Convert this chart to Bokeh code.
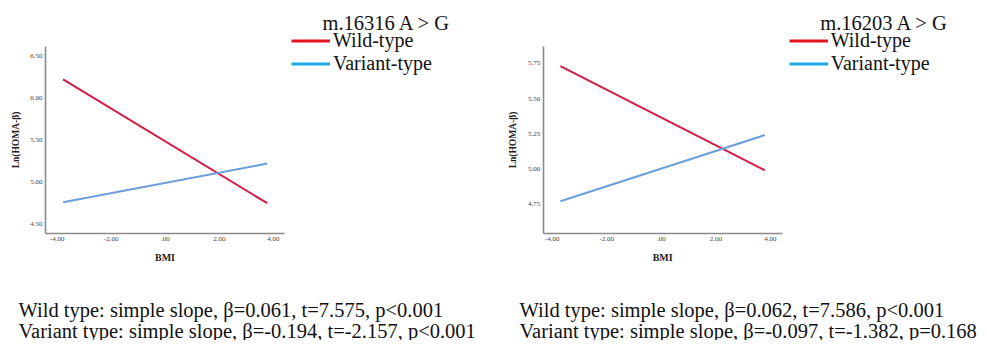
import math
from bokeh.plotting import figure
from bokeh.models import Range1d, FixedTicker, Label, Legend, LegendItem, LinearAxis
from bokeh.embed import file_html
from bokeh.resources import INLINE

# ---------------- data ----------------
series_names = ["Wild-type", "Variant-type"]
x_ticks = [-4, -2, 0, 2, 4]
x_tick_labels = ["-4.00", "-2.00", ".00", "2.00", "4.00"]

title_a = "m.16316 A > G"
bmi_a = [-3.78, 3.77]
wild_a = [6.22, 4.75]
variant_a = [4.76, 5.22]
y_ticks_a = [4.5, 5.0, 5.5, 6.0, 6.5]
y_tick_labels_a = ["4.50", "5.00", "5.50", "6.00", "6.50"]
stats_a = ["Wild type: simple slope, \u03b2=0.061, t=7.575, p<0.001",
           "Variant type: simple slope, \u03b2=-0.194, t=-2.157, p<0.001"]

title_b = "m.16203 A > G"
bmi_b = [-3.70, 3.79]
wild_b = [5.73, 4.99]
variant_b = [4.77, 5.24]
y_ticks_b = [4.75, 5.0, 5.25, 5.5, 5.75]
y_tick_labels_b = ["4.75", "5.00", "5.25", "5.50", "5.75"]
stats_b = ["Wild type: simple slope, \u03b2=0.062, t=7.586, p<0.001",
           "Variant type: simple slope, \u03b2=-0.097, t=-1.382, p=0.168"]

x_label = "BMI"
y_label = "Ln(HOMA-\u03b2)"

# ---------------- style / layout ----------------
SERIF = "Liberation Serif"
LINE_RED = "#d21f47"
LINE_BLUE = "#6b9fdb"
KEY_RED = "#e5141f"
KEY_BLUE = "#1aa9e6"
AXIS_GRAY = "#8a8a8a"
TEXT = "#111111"
BIG = "20.5px"
W, H = 982, 340

# axis extents (data) and their pixel boxes (from the figure's top-left)
xlim_a, ylim_a = (-4.43, 4.41), (4.39, 6.61)
xlim_b, ylim_b = (-4.33, 4.43), (4.54, 5.87)
box_a = dict(left=45, right=284, top=46, bottom=233)
box_b = dict(left=542.7, right=781.7, top=46, bottom=233)


def span(lim, p0, p1, total):
    s = (p1 - p0) / (lim[1] - lim[0])
    return Range1d(lim[0] - p0 / s, lim[1] + (total - p1) / s)


def xspan(lim, box):
    return span(lim, box["left"], box["right"], W)


def yspan(lim, box):
    return span(lim, H - box["bottom"], H - box["top"], H)


p = figure(width=W, height=H, output_backend="svg", toolbar_location=None,
           x_range=xspan(xlim_a, box_a), y_range=yspan(ylim_a, box_a),
           x_axis_type=None, y_axis_type=None, min_border=0)
p.min_border_left = p.min_border_right = p.min_border_top = p.min_border_bottom = 0
p.extra_x_ranges = {"b": xspan(xlim_b, box_b), "px": Range1d(0, W)}
p.extra_y_ranges = {"b": yspan(ylim_b, box_b), "px": Range1d(H, 0)}
p.outline_line_color = None
p.background_fill_color = "white"
p.border_fill_color = "white"


def style_axis(ax):
    ax.axis_line_color = AXIS_GRAY
    ax.axis_line_width = 1.6
    ax.major_tick_line_color = None
    ax.minor_tick_line_color = None
    ax.major_tick_out = 0
    ax.major_tick_in = 0
    ax.major_label_standoff = 3
    ax.major_label_text_font = SERIF
    ax.major_label_text_font_size = "7px"
    ax.major_label_text_color = "#444444"


def px_label(x, y, text, **kw):
    opts = dict(text_font=SERIF, text_font_size=BIG, text_color=TEXT,
                text_baseline="alphabetic", x_range_name="px", y_range_name="px")
    opts.update(kw)
    p.add_layout(Label(x=x, y=y, text=text, **opts))


def panel(rn, xlim, ylim, box, y_ticks, y_labels, bmi, wild, variant, title, stats, stats_x):
    xa = LinearAxis(x_range_name=rn, y_range_name=rn, fixed_location=ylim[0], bounds=xlim,
                    ticker=FixedTicker(ticks=x_ticks),
                    major_label_overrides=dict(zip(x_ticks, x_tick_labels)))
    ya = LinearAxis(x_range_name=rn, y_range_name=rn, fixed_location=xlim[0], bounds=ylim,
                    ticker=FixedTicker(ticks=y_ticks),
                    major_label_overrides=dict(zip(y_ticks, y_labels)))
    style_axis(xa)
    style_axis(ya)
    p.add_layout(xa, "below")
    p.add_layout(ya, "left")

    p.line(bmi, wild, line_color=LINE_RED, line_width=2.1, x_range_name=rn, y_range_name=rn)
    p.line(bmi, variant, line_color=LINE_BLUE, line_width=2.1, x_range_name=rn, y_range_name=rn)

    # axis titles
    px_label((box["left"] + box["right"]) / 2, box["bottom"] + 24, x_label,
             text_font_size="10px", text_font_style="bold", text_color="#222222",
             text_align="center", text_baseline="middle")
    px_label(box["left"] - 30, (box["top"] + box["bottom"]) / 2, y_label,
             text_font_size="9.5px", text_font_style="bold", text_color="#222222",
             text_align="center", text_baseline="middle", angle=math.pi / 2)

    # legend (keys are legend-only renderers without visible points)
    nan = float("nan")
    k1 = p.line([nan, nan], [nan, nan], line_color=KEY_RED, line_width=3,
                x_range_name="px", y_range_name="px")
    k2 = p.line([nan, nan], [nan, nan], line_color=KEY_BLUE, line_width=3,
                x_range_name="px", y_range_name="px")
    leg = Legend(items=[LegendItem(label=series_names[0], renderers=[k1]),
                        LegendItem(label=series_names[1], renderers=[k2])],
                 location=(box["right"] + 5, H - 77), orientation="vertical",
                 border_line_alpha=0, background_fill_alpha=0,
                 padding=2, margin=0, spacing=0, label_standoff=3,
                 glyph_width=39, glyph_height=21, label_height=21,
                 label_text_font=SERIF, label_text_font_size="20px",
                 label_text_color=TEXT)
    p.add_layout(leg)
    px_label(box["right"] + 38, 22.5, title)

    for i, s in enumerate(stats):
        px_label(stats_x, 309 + 21 * i, s)


panel("default", xlim_a, ylim_a, box_a, y_ticks_a, y_tick_labels_a,
      bmi_a, wild_a, variant_a, title_a, stats_a, 18)
panel("b", xlim_b, ylim_b, box_b, y_ticks_b, y_tick_labels_b,
      bmi_b, wild_b, variant_b, title_b, stats_b, 519)

open("out.html", "w").write(file_html(p, INLINE))
